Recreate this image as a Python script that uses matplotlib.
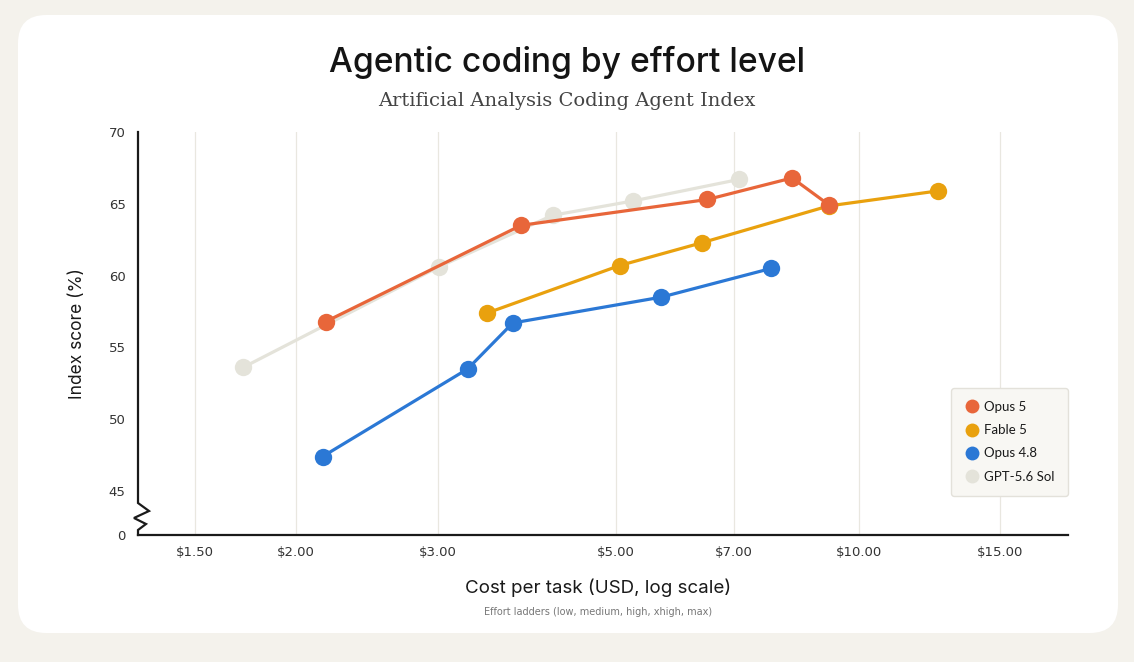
import matplotlib
matplotlib.use("Agg")
import matplotlib.pyplot as plt
from matplotlib.patches import FancyBboxPatch
from matplotlib.lines import Line2D

# effort ladders: low, medium, high, xhigh, max
opus5_cost = [2.18, 3.81, 6.49, 8.27, 9.20]
opus5_score = [56.8, 63.5, 65.3, 66.8, 64.9]

fable5_cost = [3.46, 5.05, 6.40, 9.18, 12.56]
fable5_score = [57.4, 60.7, 62.3, 64.85, 65.9]

opus48_cost = [2.16, 3.27, 3.72, 5.69, 7.79]
opus48_score = [47.4, 53.5, 56.7, 58.5, 60.5]

gpt_cost = [1.72, 3.01, 4.17, 5.25, 7.11]
gpt_score = [53.6, 60.6, 64.2, 65.2, 66.7]

x_ticks = [1.5, 2, 3, 5, 7, 10, 15]
x_labels = ["$1.50", "$2.00", "$3.00", "$5.00", "$7.00", "$10.00", "$15.00"]
y_ticks = [45, 50, 55, 60, 65, 70]

c_opus5 = "#E8663A"
c_fable = "#E9A10E"
c_opus48 = "#2B78D5"
c_gpt = "#E4E3DA"

fig = plt.figure(figsize=(11.34, 6.62), dpi=100)
fig.patch.set_facecolor("#F4F2EC")

# white card
card = FancyBboxPatch((18 / 1134, 29 / 662), 1100 / 1134, 618 / 662,
                      boxstyle="round,pad=0,rounding_size=0.025",
                      transform=fig.transFigure, facecolor="white",
                      edgecolor="none", mutation_aspect=1134 / 662, zorder=-10)
fig.patches.append(card)

ax = fig.add_axes([138 / 1134, 1 - 535 / 662, 930 / 1134, 403 / 662])
ax.set_facecolor("none")
ax.set_zorder(1)

ax.set_xscale("log")
ax.set_xlim(1.274, 18.2)
y_bottom = 45 - 44 / 14.35
ax.set_ylim(y_bottom, 70)

for xt in x_ticks:
    ax.axvline(xt, color="#E9E7E0", lw=0.9, zorder=0)

line_kw = dict(lw=2.3, marker="o", markersize=12.5, markeredgewidth=0)
ax.plot(gpt_cost, gpt_score, color=c_gpt, zorder=2, **line_kw)
ax.plot(fable5_cost, fable5_score, color=c_fable, zorder=3, **line_kw)
ax.plot(opus48_cost, opus48_score, color=c_opus48, zorder=3, **line_kw)
ax.plot(opus5_cost, opus5_score, color=c_opus5, zorder=4, **line_kw)

ax.set_xticks(x_ticks)
ax.set_xticklabels(x_labels)
ax.xaxis.set_minor_locator(matplotlib.ticker.NullLocator())
ax.set_yticks([y_bottom] + y_ticks)
ax.set_yticklabels(["0"] + [str(v) for v in y_ticks])
ax.tick_params(length=0, labelsize=9.5, colors="#333333")
ax.tick_params(axis="x", pad=8)
ax.tick_params(axis="y", pad=9)
for lab in ax.get_xticklabels() + ax.get_yticklabels():
    lab.set_family(["Liberation Sans Narrow", "DejaVu Sans"])

for s in ["top", "right", "left"]:
    ax.spines[s].set_visible(False)
ax.spines["bottom"].set_linewidth(1.6)
ax.spines["bottom"].set_color("#1a1a1a")

# left spine with a zigzag break
h = 403.0
w = 930.0
zx = [0, 0, 11 / w, -4 / w, 8 / w, 0, 0]
zy = [1, 32 / h, 24 / h, 17 / h, 11 / h, 5 / h, 0]
ax.plot(zx, zy, color="#1a1a1a", lw=1.6, transform=ax.transAxes,
        clip_on=False, zorder=5, solid_joinstyle="miter")

ax.set_ylabel("Index score (%)", fontsize=12.5, family="Inter", labelpad=16,
              color="#1a1a1a")

fig.text(0.5, 1 - 62 / 662, "Agentic coding by effort level", ha="center",
         va="center", fontsize=24.2, family="Inter", fontweight="medium",
         color="#141414")
fig.text(0.5, 1 - 101 / 662, "Artificial Analysis Coding Agent Index",
         ha="center", va="center", fontsize=14, family="DejaVu Serif",
         color="#444444")
fig.text(598 / 1134, 1 - 588 / 662, "Cost per task (USD, log scale)",
         ha="center", va="center", fontsize=13.5, family="Inter",
         color="#1a1a1a")
fig.text(598 / 1134, 1 - 612 / 662,
         "Effort ladders (low, medium, high, xhigh, max)", ha="center",
         va="center", fontsize=7, family=["Liberation Sans Narrow", "DejaVu Sans"],
         color="#777777")

handles = [
    Line2D([], [], ls="none", marker="o", markersize=10, markeredgewidth=0,
           color=c, label=l)
    for c, l in [(c_opus5, "Opus 5"), (c_fable, "Fable 5"),
                 (c_opus48, "Opus 4.8"), (c_gpt, "GPT-5.6 Sol")]
]
leg = ax.legend(handles=handles, loc="lower right",
                bbox_to_anchor=(1.0, 0.097), frameon=True, fancybox=True,
                prop={"family": "Lato", "size": 9.5}, handletextpad=0.3,
                labelspacing=0.85, borderpad=1.0, handlelength=1.2,
                borderaxespad=0)
leg.get_frame().set_facecolor("#F8F7F3")
leg.get_frame().set_edgecolor("#E3E1DA")
leg.get_frame().set_linewidth(1)
leg.get_frame().set_alpha(1)
for t in leg.get_texts():
    t.set_color("#1a1a1a")

fig.savefig("out.png", dpi=100, facecolor=fig.get_facecolor())
